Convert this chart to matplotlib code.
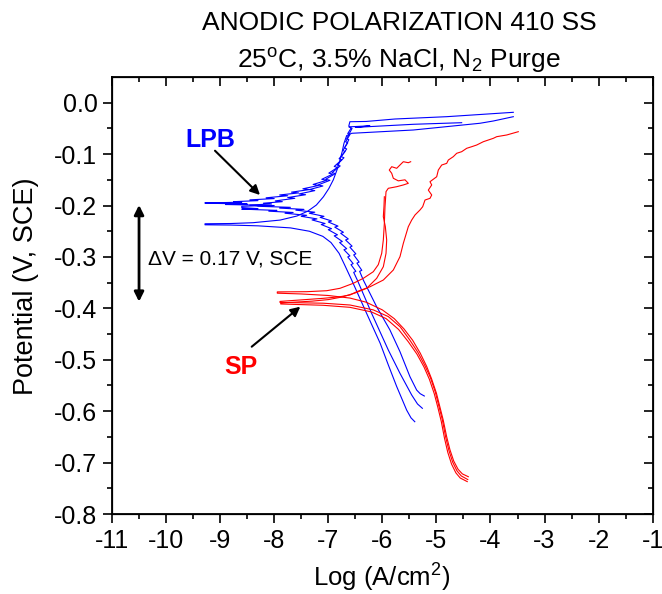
import matplotlib
matplotlib.use('Agg')
import matplotlib.pyplot as plt
from matplotlib.ticker import MultipleLocator, FormatStrFormatter

plt.rcParams['font.family'] = ['Liberation Sans', 'DejaVu Sans']
plt.rcParams['mathtext.fontset'] = 'custom'
plt.rcParams['mathtext.rm'] = 'Liberation Sans'
plt.rcParams['mathtext.it'] = 'Liberation Sans:italic'
plt.rcParams['mathtext.bf'] = 'Liberation Sans:bold'
plt.rcParams['axes.unicode_minus'] = False

# ---------------- data: LPB (blue) ----------------
lpb1_x = [-5.40, -5.47, -5.55, -5.735, -5.89, -6.04, -6.29, -6.567, -6.70, -6.80, -6.95, -7.10, -7.35, -7.70,
          -8.30, -8.80, -9.28, -9.28, -8.80, -8.39, -7.89, -7.58, -7.38, -7.22, -7.09, -6.99, -6.907, -6.84,
          -6.783, -6.74, -6.71, -6.66, -6.567, -5.427, -4.194, -3.948, -3.578]
lpb1_y = [-0.6205, -0.613, -0.598, -0.552, -0.510, -0.468, -0.410, -0.345, -0.315, -0.293, -0.272, -0.260,
          -0.250, -0.2435, -0.2395, -0.238, -0.2375, -0.2355, -0.2350, -0.2334, -0.2283, -0.2204, -0.211,
          -0.199, -0.183, -0.167, -0.150, -0.131, -0.1115, -0.094, -0.079, -0.064, -0.0595, -0.0531,
          -0.0400, -0.0356, -0.0272]

lpb2_x = [-5.224, -5.30, -5.365, -5.489, -5.674, -5.86, -6.105, -6.352, -6.42, -6.38, -6.47, -6.43, -6.53,
          -6.49, -6.60, -6.56, -6.68, -6.63, -6.77, -6.72, -6.88, -6.82, -7.00, -6.94, -7.15, -7.08, -7.35,
          -7.25, -7.60, -7.45, -7.90, -7.70, -8.30, -8.00, -8.90, -8.50, -9.28,
          -9.28, -8.90, -8.60, -8.75, -8.30, -8.45, -8.00, -8.15, -7.75, -7.90, -7.55, -7.68, -7.35, -7.47,
          -7.18, -7.28, -7.03, -7.12, -6.92, -6.99, -6.83, -6.89, -6.75, -6.80, -6.69, -6.73, -6.64, -6.68,
          -6.60, -6.64, -6.58, -6.62, -6.60, -6.30, -5.766, -4.81, -4.20, -3.578]
lpb2_y = [-0.5705, -0.566, -0.559, -0.533, -0.4843, -0.442, -0.397, -0.345, -0.328, -0.326, -0.312, -0.310,
          -0.296, -0.294, -0.281, -0.279, -0.267, -0.265, -0.254, -0.252, -0.242, -0.240, -0.232, -0.230,
          -0.223, -0.221, -0.215, -0.213, -0.209, -0.2075, -0.205, -0.2035, -0.2015, -0.200, -0.198, -0.197,
          -0.1955,
          -0.1945, -0.1942, -0.1935, -0.1925, -0.1905, -0.189, -0.1865, -0.185, -0.181, -0.1795, -0.1755,
          -0.174, -0.169, -0.1675, -0.161, -0.159, -0.151, -0.149, -0.139, -0.137, -0.126, -0.124, -0.111,
          -0.109, -0.095, -0.093, -0.078, -0.076, -0.062, -0.060, -0.050, -0.045, -0.037, -0.0365, -0.0317,
          -0.0272, -0.023, -0.0187]

lpb3_x = [-5.26, -5.35, -5.457, -5.674, -5.89, -6.197, -6.463, -6.53, -6.49, -6.58, -6.54, -6.64, -6.60,
          -6.71, -6.66, -6.79, -6.74, -6.89, -6.83, -7.00, -6.94, -7.13, -7.06, -7.30, -7.21, -7.50, -7.40,
          -7.80, -7.65, -8.10, -7.95, -8.60, -8.30, -8.60,
          -8.60, -8.30, -8.45, -8.05, -8.20, -7.85, -7.98, -7.62, -7.75, -7.42, -7.54, -7.25, -7.35, -7.10,
          -7.19, -6.97, -7.05, -6.87, -6.93, -6.78, -6.84, -6.71, -6.76, -6.66, -6.70, -6.62, -6.66, -6.60,
          -6.56, -6.62, -6.567, -6.23, -6.50, -5.427, -4.533]
lpb3_y = [-0.5944, -0.586, -0.5686, -0.5264, -0.481, -0.410, -0.345, -0.330, -0.328, -0.315, -0.313, -0.300,
          -0.298, -0.286, -0.284, -0.272, -0.270, -0.259, -0.257, -0.247, -0.245, -0.237, -0.235, -0.228,
          -0.226, -0.221, -0.219, -0.215, -0.2135, -0.211, -0.2095, -0.207, -0.206, -0.204,
          -0.2015, -0.2005, -0.199, -0.197, -0.1955, -0.1925, -0.191, -0.186, -0.1845, -0.179, -0.1775,
          -0.171, -0.169, -0.162, -0.160, -0.151, -0.149, -0.138, -0.136, -0.123, -0.121, -0.107, -0.105,
          -0.090, -0.088, -0.072, -0.070, -0.058, -0.050, -0.047, -0.0467, -0.045, -0.048, -0.042, -0.0389]

# ---------------- data: SP (red) ----------------
sp1_x = [-4.41, -4.52, -4.60, -4.68, -4.75, -4.81, -4.875, -4.94, -5.00, -5.09, -5.18, -5.30, -5.44, -5.60,
         -5.78, -6.00, -6.30, -6.60, -7.00, -7.50, -7.943,
         -7.943, -7.40, -7.03, -6.783, -6.537, -6.352, -6.167, -6.075, -6.012, -5.982, -5.963, -5.951, -5.932,
         -5.89, -5.735, -5.612, -5.52, -5.581, -5.705, -5.797, -5.827, -5.872, -5.827, -5.735, -5.674, -5.612,
         -5.52, -5.476]
sp1_y = [-0.7275, -0.722, -0.713, -0.697, -0.675, -0.650, -0.617, -0.590, -0.565, -0.537, -0.513, -0.487,
         -0.462, -0.440, -0.420, -0.403, -0.388, -0.380, -0.375, -0.372, -0.3705,
         -0.368, -0.3676, -0.3657, -0.361, -0.3513, -0.3416, -0.3287, -0.315, -0.293, -0.267, -0.2346,
         -0.2023, -0.173, -0.1665, -0.1634, -0.160, -0.1568, -0.150, -0.152, -0.147, -0.1373, -0.131,
         -0.1245, -0.1276, -0.1212, -0.1148, -0.1167, -0.1148]

sp2_x = [-4.42, -4.54, -4.62, -4.70, -4.77, -4.83, -4.89, -4.955, -5.02, -5.11, -5.21, -5.34, -5.49, -5.67,
         -5.89, -6.167, -6.598, -7.092, -7.893,
         -7.893, -7.092, -6.783, -6.598, -6.474, -6.228, -5.982, -5.797, -5.674, -5.612, -5.52, -5.457,
         -5.396, -5.304, -5.254, -5.211, -5.119, -5.087, -5.15, -5.087, -5.119, -4.995, -4.965, -4.902,
         -4.81, -4.78, -4.688, -4.625, -4.533, -4.44, -4.348, -4.255, -4.133, -3.948, -3.885, -3.70, -3.486]
sp2_y = [-0.733, -0.726, -0.716, -0.699, -0.676, -0.650, -0.617, -0.590, -0.563, -0.535, -0.512, -0.486,
         -0.462, -0.436, -0.416, -0.403, -0.3935, -0.390, -0.3885,
         -0.3865, -0.3805, -0.3774, -0.374, -0.3676, -0.358, -0.3449, -0.3254, -0.2995, -0.2735, -0.2412,
         -0.2282, -0.2184, -0.2087, -0.2023, -0.1893, -0.186, -0.1795, -0.170, -0.160, -0.1537, -0.144,
         -0.131, -0.1212, -0.118, -0.1115, -0.105, -0.0984, -0.0953, -0.0887, -0.0856, -0.0823, -0.0759,
         -0.0693, -0.0661, -0.0628, -0.0564]

sp3_x = [-4.43, -4.56, -4.64, -4.72, -4.79, -4.85, -4.91, -4.975, -5.04, -5.13, -5.23, -5.36, -5.52, -5.70,
         -5.93, -6.20, -6.60, -7.10, -7.88,
         -7.88, -7.30, -7.00, -6.75, -6.50, -6.29, -6.105, -5.982, -5.932, -5.92, -5.945, -5.982, -5.97,
         -5.963]
sp3_y = [-0.737, -0.730, -0.720, -0.703, -0.680, -0.653, -0.620, -0.592, -0.566, -0.538, -0.514, -0.489,
         -0.465, -0.441, -0.420, -0.407, -0.398, -0.394, -0.3915,
         -0.3895, -0.386, -0.383, -0.378, -0.370, -0.361, -0.3416, -0.319, -0.293, -0.267, -0.241, -0.2217,
         -0.2023, -0.183]

x_ticks = [-11, -10, -9, -8, -7, -6, -5, -4, -3, -2, -1]
y_ticks = [0.0, -0.1, -0.2, -0.3, -0.4, -0.5, -0.6, -0.7, -0.8]

BLUE = '#0000ff'
RED = '#ff0000'

fig = plt.figure(figsize=(6.62, 5.94), dpi=100)
ax = fig.add_axes([112 / 662, 1 - 514 / 594, (652.7 - 112) / 662, (514 - 77.3) / 594])

for xs, ys in [(lpb1_x, lpb1_y), (lpb2_x, lpb2_y), (lpb3_x, lpb3_y)]:
    ax.plot(xs, ys, color=BLUE, lw=0.8)
for xs, ys in [(sp1_x, sp1_y), (sp2_x, sp2_y), (sp3_x, sp3_y)]:
    ax.plot(xs, ys, color=RED, lw=0.8)

ax.set_xlim(-11, -1)
ax.set_ylim(-0.8, 0.0494)
ax.set_xticks(x_ticks)
ax.set_yticks(y_ticks)
ax.xaxis.set_minor_locator(MultipleLocator(0.5))
ax.yaxis.set_minor_locator(MultipleLocator(0.05))
ax.xaxis.set_major_formatter(FormatStrFormatter('%d'))
ax.yaxis.set_major_formatter(FormatStrFormatter('%.1f'))
ax.tick_params(which='major', direction='out', length=6.5, width=1.2, labelsize=18, pad=4)
ax.tick_params(which='minor', direction='out', length=3.5, width=1.2)
for s in ax.spines.values():
    s.set_linewidth(1.3)

# mirrored inward ticks on top/right
axr = ax.twinx()
axr.set_ylim(ax.get_ylim())
axr.set_yticks(y_ticks)
axr.yaxis.set_minor_locator(MultipleLocator(0.05))
axr.tick_params(which='major', direction='in', length=6.5, width=1.2, labelright=False)
axr.tick_params(which='minor', direction='in', length=3.5, width=1.2)
axt = ax.twiny()
axt.set_xlim(ax.get_xlim())
axt.set_xticks(x_ticks)
axt.xaxis.set_minor_locator(MultipleLocator(0.5))
axt.tick_params(which='major', direction='in', length=6.5, width=1.2, labeltop=False)
axt.tick_params(which='minor', direction='in', length=3.5, width=1.2)

# annotations
ax.text(-9.18, -0.072, 'LPB', color=BLUE, fontsize=18, fontweight='bold', ha='center', va='center')
ax.text(-8.618, -0.5135, 'SP', color=RED, fontsize=18, fontweight='bold', ha='center', va='center')
ax.annotate('', xy=(-8.263, -0.1795), xytext=(-9.095, -0.0934),
            arrowprops=dict(arrowstyle='-|>', color='black', lw=1.5, mutation_scale=14, shrinkA=0, shrinkB=0))
ax.annotate('', xy=(-7.517, -0.3968), xytext=(-8.416, -0.4746),
            arrowprops=dict(arrowstyle='-|>', color='black', lw=1.5, mutation_scale=14, shrinkA=0, shrinkB=0))
ax.annotate('', xy=(-10.5, -0.199), xytext=(-10.5, -0.387),
            arrowprops=dict(arrowstyle='<|-|>', color='black', lw=2.0, mutation_scale=14, shrinkA=0, shrinkB=0))
ax.text(-10.33, -0.304, '\u0394V = 0.17 V, SCE', fontsize=15, ha='left', va='center')

# titles and axis labels
fig.text(0.603, 1 - 30 / 594, 'ANODIC POLARIZATION 410 SS', ha='center', va='baseline', fontsize=19)
fig.text(0.603, 1 - 68 / 594, r'25$^{\rm o}$C, 3.5% NaCl, N$_2$ Purge', ha='center', va='baseline', fontsize=19)
fig.text(0.577, 1 - 587 / 594, r'Log (A/cm$^2$)', ha='center', va='baseline', fontsize=18.5)
fig.text(0.040, 1 - 286 / 594, 'Potential (V, SCE)', ha='center', va='center', rotation=90, fontsize=19.5)

fig.savefig('out.png', dpi=100)
